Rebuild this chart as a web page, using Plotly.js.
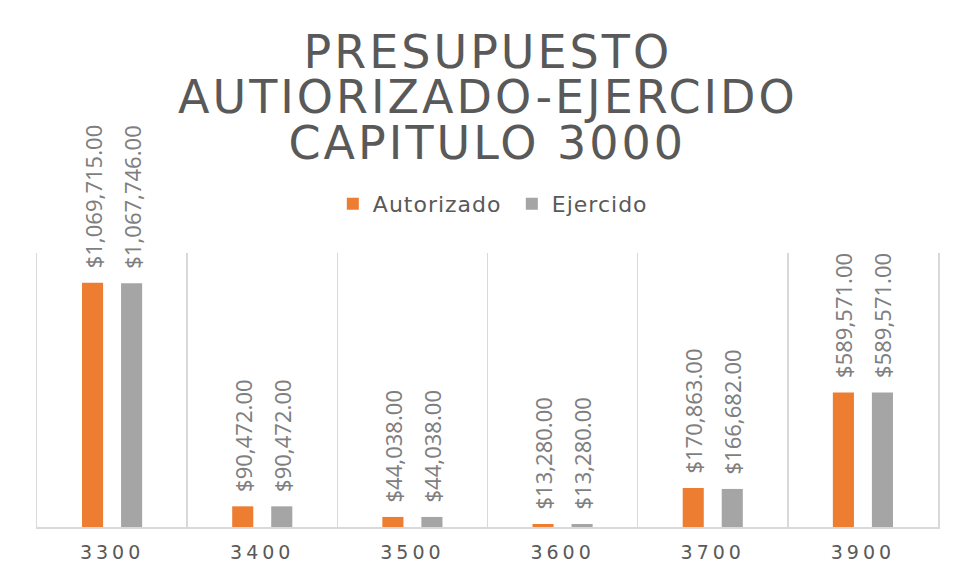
<!DOCTYPE html>
<html>
<head>
<meta charset="utf-8">
<script src="https://cdn.plot.ly/plotly-3.0.1.min.js"></script>
<style>
html,body{margin:0;padding:0;background:#fff;}
#chart{width:958px;height:578px;}
#chart .annotation-text{letter-spacing:3px;}
#chart .legendtext{letter-spacing:1px;}
#chart .xtick text{letter-spacing:4px;}
</style>
</head>
<body>
<div id="chart"></div>
<script>
const categories = ['3300', '3400', '3500', '3600', '3700', '3900'];
const autorizado = [1069715, 90472, 44038, 13280, 170863, 589571];
const ejercido = [1067746, 90472, 44038, 13280, 166682, 589571];
const seriesNames = ['Autorizado', 'Ejercido'];
const titleLines = ['PRESUPUESTO', 'AUTIORIZADO-EJERCIDO', 'CAPITULO 3000'];

const labelFont = {family: 'Noto Sans, sans-serif', size: 22, color: '#7f7f7f'};

function barTrace(name, values, color) {
  return {
    type: 'bar',
    name: name,
    x: categories,
    y: values,
    marker: {color: color},
    texttemplate: '\u00a0\u00a0%{y:$,.2f}',
    textposition: 'outside',
    textangle: -90,
    textfont: labelFont,
    constraintext: 'none',
    cliponaxis: false,
    hoverinfo: 'x+y'
  };
}

const data = [
  barTrace(seriesNames[0], autorizado, '#ED7D31'),
  barTrace(seriesNames[1], ejercido, '#A5A5A5')
];

const titleY = [1.735, 1.57, 1.403];
const annotations = titleLines.map((t, i) => ({
  text: t,
  xref: 'paper', yref: 'paper',
  x: 0.5, y: titleY[i],
  xanchor: 'center', yanchor: 'middle',
  showarrow: false,
  font: {family: 'DejaVu Sans, sans-serif', size: 46, color: '#595959'}
}));

const layout = {
  width: 958,
  height: 578,
  margin: {l: 37, r: 20, t: 253, b: 51},
  paper_bgcolor: '#ffffff',
  plot_bgcolor: '#ffffff',
  barmode: 'group',
  bargap: 0.48,
  bargroupgap: 0.46,
  showlegend: true,
  legend: {
    orientation: 'h',
    x: 0.527, xanchor: 'center',
    y: 1.179, yanchor: 'middle',
    font: {family: 'DejaVu Sans, sans-serif', size: 22, color: '#595959'},
    entrywidth: 134,
    entrywidthmode: 'pixels',
    traceorder: 'normal'
  },
  xaxis: {
    type: 'category',
    tickson: 'boundaries',
    showgrid: true,
    gridcolor: '#d9d9d9',
    gridwidth: 1.5,
    showline: true,
    linecolor: '#d9d9d9',
    linewidth: 1.5,
    ticks: '',
    ticklabelstandoff: 8,
    tickfont: {family: 'DejaVu Sans, sans-serif', size: 19, color: '#595959'},
    fixedrange: true
  },
  yaxis: {
    range: [0, 1200000],
    showgrid: false,
    zeroline: false,
    showline: true,
    mirror: true,
    linecolor: '#d9d9d9',
    linewidth: 1.5,
    showticklabels: false,
    ticks: '',
    fixedrange: true
  },
  annotations: annotations
};

Plotly.newPlot('chart', data, layout, {displayModeBar: false, staticPlot: true});
</script>
</body>
</html>
